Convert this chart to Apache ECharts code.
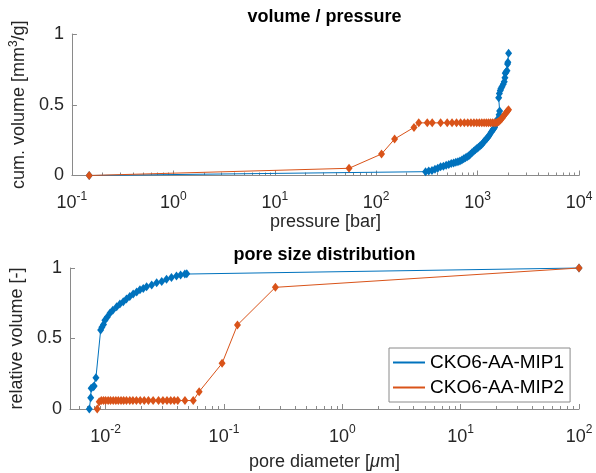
<!DOCTYPE html>
<html>
<head>
<meta charset="utf-8">
<script src="https://cdn.jsdelivr.net/npm/echarts@6/dist/echarts.min.js"></script>
<style>
html, body { margin: 0; padding: 0; background: #fff; }
#main { width: 596px; height: 473px; }
</style>
</head>
<body>
<div id="main"></div>
<script>
// volume / pressure : [pressure bar, cum. volume mm3/g]
var mip1Pressure = [[0.148,0],[307,0.027],[330,0.031],[355,0.036],[380,0.045],[405,0.052],[432,0.062],[460,0.066],[490,0.072],[520,0.078],[550,0.084],[580,0.088],[610,0.093],[640,0.097],[670,0.103],[700,0.11],[730,0.118],[760,0.125],[790,0.133],[820,0.14],[850,0.15],[880,0.16],[915,0.172],[950,0.182],[985,0.19],[1020,0.2],[1055,0.208],[1090,0.218],[1125,0.228],[1160,0.24],[1200,0.252],[1240,0.263],[1280,0.275],[1320,0.29],[1360,0.305],[1400,0.318],[1440,0.33],[1470,0.34],[1500,0.357],[1540,0.375],[1580,0.4],[1630,0.43],[1650,0.455],[1615,0.55],[1640,0.58],[1675,0.6],[1700,0.615],[1740,0.628],[1790,0.645],[1832,0.663],[1860,0.69],[1875,0.722],[1900,0.73],[1950,0.74],[1975,0.788],[1990,0.8],[2022,0.864]];
var mip2Pressure = [[0.148,0],[54,0.051],[113,0.152],[152,0.258],[236,0.34],[263,0.372],[319,0.372],[357,0.372],[432,0.372],[502,0.372],[560,0.372],[620,0.372],[680,0.372],[740,0.372],[800,0.372],[860,0.372],[920,0.372],[980,0.372],[1040,0.372],[1100,0.372],[1160,0.372],[1220,0.372],[1280,0.372],[1340,0.372],[1400,0.372],[1460,0.372],[1520,0.373],[1570,0.376],[1620,0.382],[1680,0.393],[1740,0.405],[1800,0.418],[1860,0.432],[1920,0.445],[1970,0.456],[2020,0.465]];

// pore size distribution : [pore diameter um, relative volume]
var mip1Pores = [[0.00728,0],[0.00748,0.08],[0.00755,0.147],[0.00787,0.158],[0.008,0.163],[0.00828,0.222],[0.00908,0.56],[0.0093,0.58],[0.0096,0.6],[0.00986,0.63],[0.0103,0.65],[0.0109,0.68],[0.0115,0.7],[0.0124,0.725],[0.0132,0.745],[0.0141,0.76],[0.015,0.78],[0.016,0.797],[0.0171,0.815],[0.0183,0.83],[0.0195,0.845],[0.0208,0.855],[0.0222,0.867],[0.0245,0.88],[0.027,0.896],[0.0298,0.905],[0.0327,0.92],[0.036,0.932],[0.0397,0.943],[0.043,0.95],[0.0467,0.957],[0.0485,0.96],[100,1]];
var mip2Pores = [[0.00849,0],[0.00883,0.052],[0.0092,0.06],[0.0096,0.06],[0.01,0.06],[0.0105,0.06],[0.011,0.06],[0.0116,0.06],[0.0122,0.06],[0.0128,0.06],[0.0135,0.06],[0.0142,0.06],[0.015,0.06],[0.016,0.06],[0.017,0.06],[0.0182,0.06],[0.0196,0.06],[0.0212,0.06],[0.023,0.06],[0.0252,0.06],[0.028,0.06],[0.0305,0.06],[0.033,0.06],[0.0355,0.06],[0.038,0.06],[0.0407,0.06],[0.0468,0.06],[0.055,0.06],[0.0617,0.123],[0.0964,0.324],[0.13,0.596],[0.272,0.863],[100,1]];

var names = ['CKO6-AA-MIP1', 'CKO6-AA-MIP2'];
var colors = ['#0072BD', '#D95319'];
var font = '"Liberation Sans", Arial, sans-serif';
var axisGray = '#8a8a8a';
var textGray = '#262626';

function powLabel(v) {
    var e = Math.log10(v);
    var r = Math.round(e);
    if (Math.abs(e - r) > 1e-6) return '';
    return '10{sup|' + r + '}';
}

var nameRich = {
    sup: { fontSize: 12, color: textGray, fontFamily: font, padding: [0, 0, 10, 0] },
    mu: { fontSize: 18, color: textGray, fontFamily: font, fontStyle: 'italic' }
};

function xAxis(idx, min, max, name, gap) {
    return {
        type: 'log', logBase: 10, gridIndex: idx, min: min, max: max,
        name: name, nameLocation: 'middle', nameGap: gap,
        nameTextStyle: { fontSize: 18, color: textGray, fontFamily: font, rich: nameRich },
        axisLine: { lineStyle: { color: axisGray, width: 1 } },
        axisTick: { inside: true, length: 5, lineStyle: { color: axisGray } },
        minorTick: { show: true, splitNumber: 9, length: 3, lineStyle: { color: axisGray } },
        splitLine: { show: false },
        minorSplitLine: { show: false },
        axisLabel: {
            formatter: powLabel, margin: 15, color: textGray, fontSize: 18, fontFamily: font,
            showMinLabel: true, showMaxLabel: true,
            rich: { sup: { fontSize: 12, color: textGray, fontFamily: font, padding: [0, 0, 14, 0] } }
        }
    };
}

function yAxis(idx, name) {
    return {
        type: 'value', gridIndex: idx, min: 0, max: 1, interval: 0.5,
        name: name, nameLocation: 'middle', nameGap: 38,
        nameTextStyle: { fontSize: 18, color: textGray, fontFamily: font, rich: nameRich },
        axisLine: { show: true, lineStyle: { color: axisGray, width: 1 } },
        axisTick: { inside: true, length: 5, lineStyle: { color: axisGray } },
        splitLine: { show: false },
        axisLabel: { margin: 8, color: textGray, fontSize: 18, fontFamily: font }
    };
}

function line(i, data, axis) {
    return {
        type: 'line', name: names[i], data: data,
        xAxisIndex: axis, yAxisIndex: axis,
        symbol: 'diamond', symbolSize: [7, 9],
        lineStyle: { color: colors[i], width: 1 },
        itemStyle: { color: colors[i] },
        clip: false, animation: false,
        emphasis: { disabled: true }
    };
}

var option = {
    backgroundColor: '#fff',
    animation: false,
    title: [
        { text: 'volume / pressure', left: 324.5, top: 8, textAlign: 'center', padding: 0,
          textStyle: { fontSize: 18, fontWeight: 'bold', color: '#000', fontFamily: font } },
        { text: 'pore size distribution', left: 324.5, top: 246, textAlign: 'center', padding: 0,
          textStyle: { fontSize: 18, fontWeight: 'bold', color: '#000', fontFamily: font } }
    ],
    grid: [
        { left: 70, right: 17, top: 34, height: 141.5 },
        { left: 70, right: 17, top: 268, height: 141 }
    ],
    xAxis: [
        xAxis(0, 0.1, 10000, 'pressure [bar]', 36),
        xAxis(1, 0.005, 100, 'pore diameter [{mu|\u03bc}m]', 44)
    ],
    yAxis: [
        yAxis(0, 'cum. volume [mm{sup|3}/g]'),
        yAxis(1, 'relative volume [-]')
    ],
    legend: {
        data: names, orient: 'vertical', left: 389, top: 348,
        icon: 'rect', itemWidth: 32, itemHeight: 2, itemGap: 6,
        padding: [5, 6, 5, 4],
        borderColor: axisGray, borderWidth: 1, backgroundColor: '#fff',
        textStyle: { fontSize: 19, color: '#000', fontFamily: font }
    },
    series: [
        line(0, mip1Pressure, 0),
        line(1, mip2Pressure, 0),
        line(0, mip1Pores, 1),
        line(1, mip2Pores, 1)
    ]
};

var chart = echarts.init(document.getElementById('main'));
chart.setOption(option);
</script>
</body>
</html>
